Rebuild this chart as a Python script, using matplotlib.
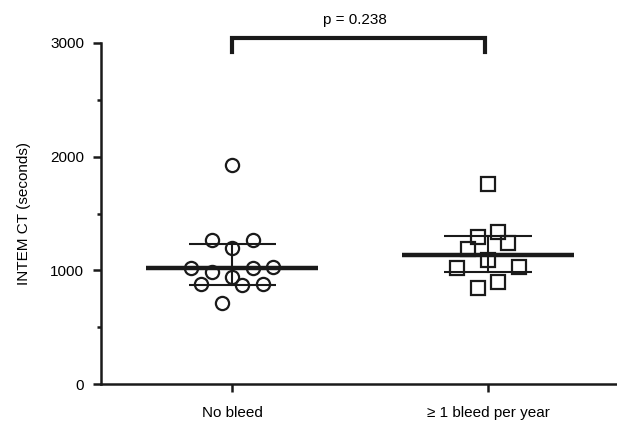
import numpy as np
import matplotlib
matplotlib.use("Agg")
from matplotlib import pyplot as plt

plt.rcParams['font.family'] = ['Liberation Sans', 'DejaVu Sans']

# groups
GROUPS = ["No bleed", "\u2265 1 bleed per year"]

# INTEM CT values (seconds)
NO_BLEED_X = [0.0, -0.08, 0.08, 0.0, -0.16, -0.08, 0.08, 0.16, 0.0, -0.12, 0.04, 0.12, -0.04]
NO_BLEED_Y = [1926, 1267, 1267, 1199, 1018, 988, 1018, 1032, 944, 877, 871, 877, 715]
BLEED_X = [0.0, 0.04, -0.04, 0.08, -0.08, 0.0, -0.12, 0.12, 0.04, -0.04]
BLEED_Y = [1759, 1340, 1296, 1243, 1185, 1091, 1018, 1027, 900, 842]

# median and interquartile range
MEDIAN = [1018, 1135]
Q1 = [871, 988]
Q3 = [1229, 1302]

P_TEXT = "p = 0.238"

fig = plt.figure(figsize=(6.17, 4.22), dpi=100)
ax = fig.add_axes([101/617, 1 - 384/422, 1 - 101/617, (384 - 43)/422])

ax.plot(np.array(NO_BLEED_X), NO_BLEED_Y, linestyle="none", marker="o", ms=9.5,
        mfc="none", mec="#1a1a1a", mew=1.6, zorder=3)
ax.plot(np.array(BLEED_X) + 1, BLEED_Y, linestyle="none", marker="s", ms=10,
        mfc="none", mec="#1a1a1a", mew=1.6, zorder=3)

for i in range(2):
    ax.plot([i - 0.335, i + 0.335], [MEDIAN[i]] * 2, color="#1a1a1a", lw=3.2, zorder=4,
            solid_capstyle="butt")
    ax.plot([i - 0.17, i + 0.17], [Q1[i]] * 2, color="#1a1a1a", lw=1.5, zorder=4,
            solid_capstyle="butt")
    ax.plot([i - 0.17, i + 0.17], [Q3[i]] * 2, color="#1a1a1a", lw=1.5, zorder=4,
            solid_capstyle="butt")
    ax.plot([i, i], [Q1[i], Q3[i]], color="#1a1a1a", lw=1.5, zorder=4)

# significance bracket
ax.plot([0, 0, 0.99, 0.99], [2920, 3040, 3040, 2920], color="#1a1a1a", lw=3,
        clip_on=False, solid_joinstyle="miter")
ax.text(0.48, 3200, P_TEXT, ha="center", va="center", fontsize=11)

ax.set_xlim(-0.512, 1.504)
ax.set_ylim(0, 3000)
ax.set_yticks([0, 1000, 2000, 3000])
ax.set_yticks([500, 1500, 2500], minor=True)
ax.set_xticks([0, 1])
ax.set_xticklabels(GROUPS)
ax.set_ylabel("INTEM CT (seconds)", fontsize=11, labelpad=14)

for s in ["top", "right"]:
    ax.spines[s].set_visible(False)
for s in ["left", "bottom"]:
    ax.spines[s].set_linewidth(1.8)
    ax.spines[s].set_color("#1a1a1a")
ax.tick_params(axis="both", which="major", length=6, width=1.8, color="#1a1a1a",
               labelsize=11, pad=6)
ax.tick_params(axis="y", which="minor", length=3, width=1.8, color="#1a1a1a")
ax.tick_params(axis="x", pad=10)

fig.savefig("out.png", dpi=100)
